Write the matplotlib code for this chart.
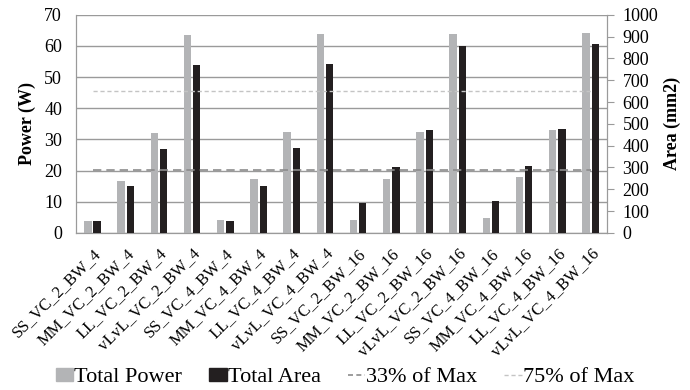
import numpy as np
import matplotlib
matplotlib.use('Agg')
import matplotlib.pyplot as plt
from matplotlib.lines import Line2D
from matplotlib.patches import Patch

plt.rcParams['font.family'] = ['Liberation Serif', 'DejaVu Serif']

configs = ['SS_VC_2_BW_4', 'MM_VC_2_BW_4', 'LL_VC_2_BW_4', 'vLvL_VC_2_BW_4',
           'SS_VC_4_BW_4', 'MM_VC_4_BW_4', 'LL_VC_4_BW_4', 'vLvL_VC_4_BW_4',
           'SS_VC_2_BW_16', 'MM_VC_2_BW_16', 'LL_VC_2_BW_16', 'vLvL_VC_2_BW_16',
           'SS_VC_4_BW_16', 'MM_VC_4_BW_16', 'LL_VC_4_BW_16', 'vLvL_VC_4_BW_16']
total_power = [3.8, 16.8, 32.1, 63.4, 4.1, 17.2, 32.5, 63.8,
               4.2, 17.2, 32.4, 63.8, 4.7, 17.8, 33.1, 64.2]
total_area = [55, 214, 385, 772, 55, 215, 388, 775,
              139, 300, 472, 858, 145, 307, 478, 867]
pct33_area = 289
pct75_area = 650

GRAY = '#b3b4b6'
BLACK = '#231f20'

fig = plt.figure(figsize=(6.9, 3.9), dpi=100)
ax = fig.add_axes([0.110, 0.403, 0.770, 0.559])
ax2 = ax.twinx()

x = np.arange(len(configs))
w = 0.22
ax.bar(x - 0.14, total_power, w, color=GRAY, zorder=3)
ax2.bar(x + 0.14, total_area, w, color=BLACK, zorder=3)
ax2.plot([x[0], x[-1]], [pct33_area, pct33_area], color='#8c8c8c', lw=1.2,
         dashes=(5, 3), zorder=4)
ax2.plot([x[0], x[-1]], [pct75_area, pct75_area], color='#c4c4c4', lw=1.0,
         dashes=(3, 2), zorder=4)

ax.set_ylim(0, 70)
ax.set_yticks(range(0, 71, 10))
ax2.set_ylim(0, 1000)
ax2.set_yticks(range(0, 1001, 100))
ax.set_xlim(-0.5, len(configs) - 0.5)
ax.yaxis.grid(True, color='#9a9a9a', lw=1.0, zorder=0)
ax.set_axisbelow(True)

for a in (ax, ax2):
    for s in a.spines.values():
        s.set_color('#9a9a9a')
    a.spines['top'].set_visible(False)
ax.tick_params(axis='y', length=0, labelsize=13, pad=10)
ax.tick_params(axis='x', length=0, labelsize=12, pad=9)
ax2.tick_params(axis='y', length=5, color='#9a9a9a', labelsize=13, pad=6)
ax.set_xticks(x)
ax.set_xticklabels(configs, rotation=45, ha='right', rotation_mode='anchor')

ax.set_ylabel('Power (W)', fontsize=13, fontweight='bold', labelpad=6)
ax2.set_ylabel('Area (mm2)', fontsize=13, fontweight='bold', labelpad=4)

handles = [Patch(color=GRAY), Patch(color=BLACK),
           Line2D([], [], color='#8c8c8c', lw=1.2, dashes=(3, 2)),
           Line2D([], [], color='#c4c4c4', lw=1.0, dashes=(3, 2))]
labels = ['Total Power', 'Total Area', '33% of Max', '75% of Max']
fig.legend(handles, labels, loc='center', bbox_to_anchor=(0.5, 0.032), ncol=4,
           frameon=False, fontsize=16, handlelength=0.8, handleheight=0.5,
           handletextpad=0.05, columnspacing=1.2, borderpad=0)

fig.savefig('out.png', dpi=100)
